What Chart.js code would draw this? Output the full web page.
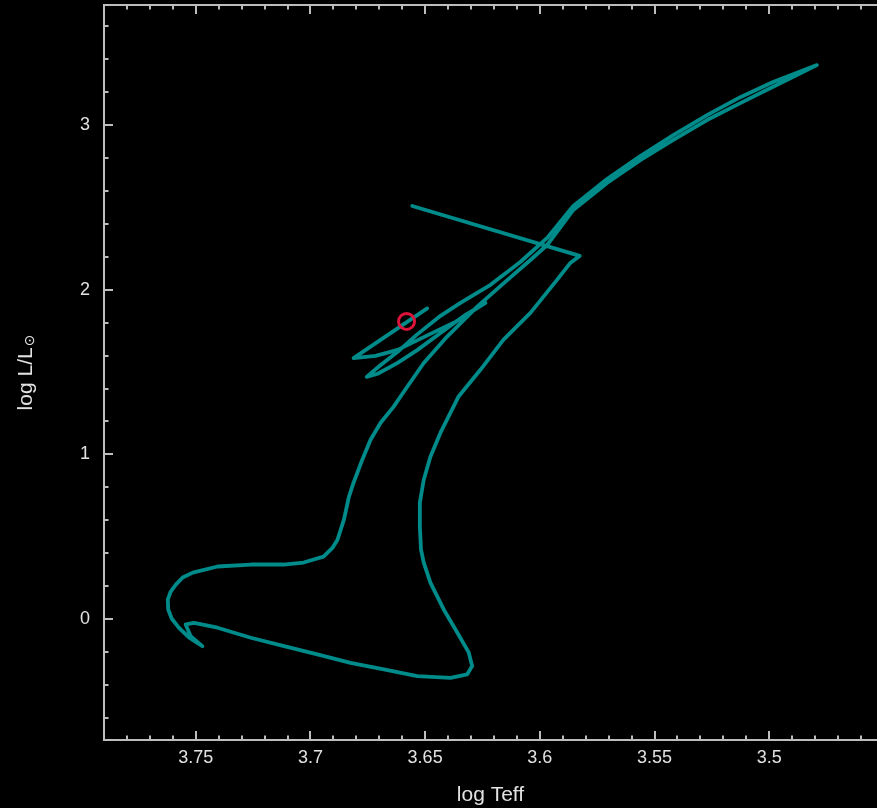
<!DOCTYPE html>
<html>
<head>
<meta charset="utf-8">
<script src="https://cdn.jsdelivr.net/npm/chart.js@4.4.0/dist/chart.umd.min.js"></script>
<style>
  html, body { margin: 0; padding: 0; background: #000; overflow: hidden; }
  canvas { display: block; }
</style>
</head>
<body>
<canvas id="hr" width="877" height="808"></canvas>
<script>
// Evolutionary track in the HR diagram: effective temperature and luminosity
const logTeff = [
  3.6556, 3.5826, 3.5867, 3.5925, 3.6041, 3.6159, 3.6259, 3.6355, 3.6433, 3.6477,
  3.6506, 3.6523, 3.6523, 3.6518, 3.6506, 3.6477, 3.6419, 3.6360, 3.6310, 3.6295,
  3.6317, 3.6389, 3.6534, 3.6680, 3.6825, 3.6970, 3.7115, 3.7260, 3.7405, 3.7507,
  3.7544, 3.7522, 3.7471, 3.7530, 3.7574, 3.7605, 3.7620, 3.7622, 3.7609, 3.7587,
  3.7557, 3.7513, 3.7405, 3.7260, 3.7117, 3.7030, 3.6943, 3.6903, 3.6882, 3.6854,
  3.6832, 3.6812, 3.6774, 3.6738, 3.6694, 3.6638, 3.6578, 3.6506, 3.6404, 3.6273,
  3.6157, 3.6041, 3.5968, 3.5854, 3.5707, 3.5562, 3.5418, 3.5271, 3.5126, 3.4983,
  3.4792, 3.4983, 3.5126, 3.5271, 3.5418, 3.5562, 3.5707, 3.5854, 3.5968, 3.6085,
  3.6215, 3.6346, 3.6433, 3.6537, 3.6620, 3.6703, 3.6755, 3.6707, 3.6620, 3.6533,
  3.6433, 3.6324, 3.6237, 3.6368, 3.6477, 3.6620, 3.6716, 3.6812, 3.6491
];
const logL = [
  2.509, 2.206, 2.163, 2.060, 1.860, 1.696, 1.514, 1.350, 1.132, 0.986,
  0.846, 0.707, 0.561, 0.422, 0.343, 0.221, 0.058, -0.082, -0.203, -0.286,
  -0.337, -0.357, -0.347, -0.306, -0.266, -0.215, -0.165, -0.114, -0.053, -0.023,
  -0.033, -0.104, -0.165, -0.112, -0.052, 0.003, 0.058, 0.118, 0.167, 0.209,
  0.252, 0.282, 0.319, 0.331, 0.331, 0.343, 0.379, 0.434, 0.482, 0.604,
  0.743, 0.828, 0.968, 1.089, 1.192, 1.289, 1.411, 1.555, 1.716, 1.898,
  2.040, 2.181, 2.272, 2.485, 2.649, 2.788, 2.910, 3.031, 3.134, 3.233,
  3.365, 3.262, 3.170, 3.061, 2.940, 2.812, 2.673, 2.509, 2.315, 2.169,
  2.030, 1.920, 1.842, 1.726, 1.623, 1.532, 1.471, 1.490, 1.556, 1.635,
  1.738, 1.848, 1.920, 1.805, 1.732, 1.635, 1.599, 1.585, 1.887
];

// Current position of the star on the track
const starTeff = [3.6581];
const starL = [1.808];

// Labelled axis ticks
const xTickValues = [3.75, 3.7, 3.65, 3.6, 3.55, 3.5];
const yTickValues = [0, 1, 2, 3];

const AXIS_COLOR = '#bdbdbd';
const TEXT_COLOR = '#e2e2e2';
const FONT = '"Liberation Sans", "DejaVu Sans", sans-serif';

const trackPoints = logTeff.map((t, i) => ({ x: t, y: logL[i] }));
const starPoints = starTeff.map((t, i) => ({ x: t, y: starL[i] }));

// Keep the plot box fixed: no extra room reserved for edge labels
function noEdgePadding(s) {
  s.paddingTop = 0;
  s.paddingBottom = 0;
  s.paddingLeft = 0;
  s.paddingRight = 0;
}

// Box frame with inward-pointing major and minor ticks
const framePlugin = {
  id: 'frame',
  beforeDatasetsDraw(chart) {
    const { ctx, chartArea: a, scales: { x, y } } = chart;
    ctx.save();
    ctx.strokeStyle = AXIS_COLOR;
    ctx.lineWidth = 2;
    ctx.beginPath();
    ctx.moveTo(a.right + 2, a.top);
    ctx.lineTo(a.left, a.top);
    ctx.lineTo(a.left, a.bottom);
    ctx.lineTo(a.right + 2, a.bottom);
    ctx.stroke();

    ctx.beginPath();
    for (let i = 340; i <= 380; i++) {
      const v = i / 100;
      if (v < x.min || v > x.max) continue;
      const px = Math.round(x.getPixelForValue(v));
      const len = i % 5 === 0 ? 9 : 4.5;
      ctx.moveTo(px, a.bottom);
      ctx.lineTo(px, a.bottom - len);
      ctx.moveTo(px, a.top);
      ctx.lineTo(px, a.top + len);
    }
    for (let k = -5; k <= 20; k++) {
      const v = k * 0.2;
      if (v < y.min || v > y.max) continue;
      const py = Math.round(y.getPixelForValue(v));
      const len = k % 5 === 0 ? 9 : 4.5;
      ctx.moveTo(a.left, py);
      ctx.lineTo(a.left + len, py);
    }
    ctx.stroke();
    ctx.restore();
  }
};

// Rotated luminosity title with the solar symbol as a subscript
const yTitlePlugin = {
  id: 'yTitle',
  afterDraw(chart) {
    const { ctx, chartArea: a } = chart;
    const main = 'log L/L';
    const sub = '\u2299';
    ctx.save();
    ctx.fillStyle = TEXT_COLOR;
    ctx.textBaseline = 'alphabetic';
    ctx.textAlign = 'left';
    ctx.font = '21px ' + FONT;
    const wMain = ctx.measureText(main).width;
    ctx.font = '14px ' + FONT;
    const wSub = ctx.measureText(sub).width;
    const total = wMain + wSub + 1;
    ctx.translate(32, (a.top + a.bottom) / 2);
    ctx.rotate(-Math.PI / 2);
    ctx.font = '21px ' + FONT;
    ctx.fillText(main, -total / 2, 0);
    ctx.font = '14px ' + FONT;
    ctx.fillText(sub, -total / 2 + wMain + 1, 2);
    ctx.restore();
  }
};

new Chart(document.getElementById('hr'), {
  type: 'scatter',
  data: {
    datasets: [
      {
        label: 'star',
        data: starPoints,
        pointStyle: 'circle',
        pointRadius: 8,
        pointBorderWidth: 3,
        pointBorderColor: '#dc143c',
        pointBackgroundColor: 'rgba(0,0,0,0)',
        showLine: false
      },
      {
        label: 'track',
        data: trackPoints,
        showLine: true,
        borderColor: '#008b8b',
        borderWidth: 3.8,
        borderJoinStyle: 'round',
        borderCapStyle: 'round',
        pointRadius: 0,
        tension: 0
      }
    ]
  },
  options: {
    responsive: false,
    devicePixelRatio: 1,
    animation: false,
    layout: { autoPadding: false, padding: { top: 5, right: 0, bottom: 0, left: 0 } },
    plugins: {
      legend: { display: false },
      tooltip: { enabled: false }
    },
    scales: {
      x: {
        type: 'linear',
        position: 'bottom',
        reverse: true,
        min: 3.453,
        max: 3.79,
        afterBuildTicks: s => { s.ticks = xTickValues.map(v => ({ value: v })); },
        afterFit: s => { s.height = 68; noEdgePadding(s); },
        grid: { display: false, drawTicks: false },
        border: { display: false },
        ticks: {
          color: TEXT_COLOR,
          font: { family: FONT, size: 18 },
          padding: 7,
          maxRotation: 0,
          autoSkip: false,
          callback: v => String(v)
        },
        title: {
          display: true,
          text: 'log Teff',
          color: TEXT_COLOR,
          font: { family: FONT, size: 21 },
          padding: { top: 0, bottom: 0 }
        }
      },
      y: {
        type: 'linear',
        position: 'left',
        min: -0.735,
        max: 3.73,
        afterBuildTicks: s => { s.ticks = yTickValues.map(v => ({ value: v })); },
        afterFit: s => { s.width = 104; noEdgePadding(s); },
        grid: { display: false, drawTicks: false },
        border: { display: false },
        ticks: {
          color: TEXT_COLOR,
          font: { family: FONT, size: 18 },
          padding: 14,
          autoSkip: false,
          callback: v => String(v)
        }
      }
    }
  },
  plugins: [framePlugin, yTitlePlugin]
});
</script>
</body>
</html>
